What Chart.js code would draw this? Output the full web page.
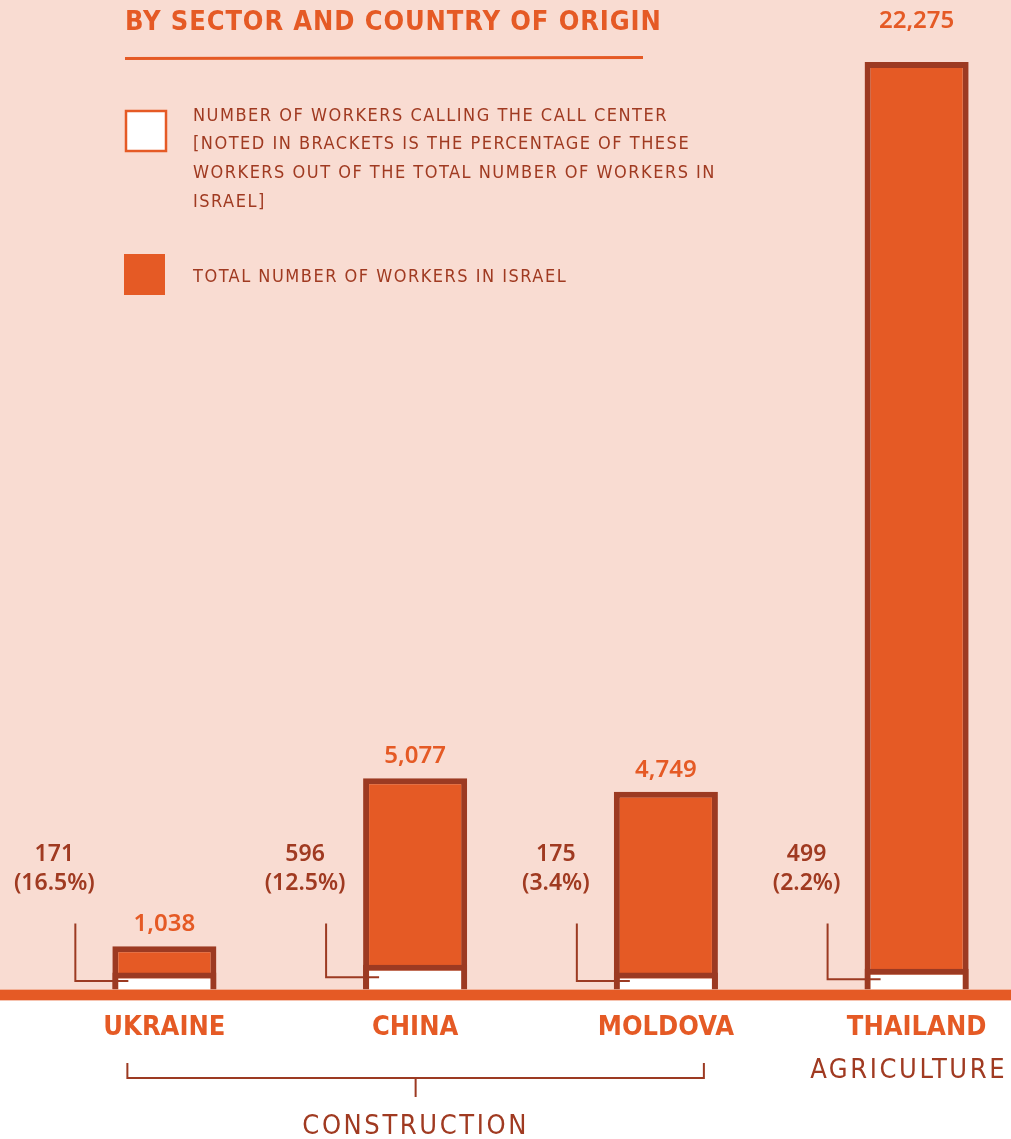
<!DOCTYPE html>
<html>
<head>
<meta charset="utf-8">
<title>By sector and country of origin</title>
<script src="https://cdn.jsdelivr.net/npm/chart.js@4.4.1/dist/chart.umd.min.js"></script>
<style>
  html, body { margin: 0; padding: 0; background: #ffffff; overflow: hidden; }
  #wrap { position: relative; width: 1011px; height: 1139px; overflow: hidden; }
  #sectorChart { position: absolute; left: 0; top: 0; }
</style>
</head>
<body>
<div id="wrap"><canvas id="sectorChart" width="1045" height="1139"></canvas></div>
<script>
// Chart data
const countries = ['UKRAINE', 'CHINA', 'MOLDOVA', 'THAILAND'];
const totalWorkers = [1038, 5077, 4749, 22275];
const callCenterWorkers = [171, 596, 175, 499];
const callCenterShare = ['16.5%', '12.5%', '3.4%', '2.2%'];
const sectorNames = ['CONSTRUCTION', 'AGRICULTURE'];
const countrySector = [0, 0, 0, 1];

const titleText = 'BY SECTOR AND COUNTRY OF ORIGIN';
const legendCallCenter = [
    'NUMBER OF WORKERS CALLING THE CALL CENTER',
    '[NOTED IN BRACKETS IS THE PERCENTAGE OF THESE',
    'WORKERS OUT OF THE TOTAL NUMBER OF WORKERS IN',
    'ISRAEL]'
];
const legendTotal = ['TOTAL NUMBER OF WORKERS IN ISRAEL'];

// Colours
const PINK = '#f9dcd2';
const ORANGE = '#e55a25';
const OUTLINE = '#9c3a22';
const TEXT_BROWN = '#a03a21';

const HEAD_FONT = '"DejaVu Sans Condensed", "DejaVu Sans", sans-serif';
const NUM_FONT = '"Noto Sans", "Open Sans", sans-serif';

const fmt = n => n.toLocaleString('en-US');

// Pink backdrop above the baseline, orange band on it, white below
const backdropPlugin = {
    id: 'backdrop',
    beforeDraw(chart) {
        const { ctx, width, height } = chart;
        const base = chart.scales.y.getPixelForValue(0);
        ctx.save();
        ctx.fillStyle = PINK;
        ctx.fillRect(0, 0, width, base);
        ctx.fillStyle = ORANGE;
        ctx.fillRect(0, base, width, 11);
        ctx.fillStyle = '#ffffff';
        ctx.fillRect(0, base + 11, width, height - base - 11);
        ctx.restore();
    }
};

function spacedText(ctx, text, x, y, spacing) {
    ctx.letterSpacing = spacing + 'px';
    ctx.fillText(text, x, y);
    ctx.letterSpacing = '0px';
}

// Title, legend, value labels, connectors and sector brackets
const annotationPlugin = {
    id: 'annotations',
    afterDatasetsDraw(chart) {
        const { ctx, chartArea } = chart;
        const base = chart.scales.y.getPixelForValue(0);
        const callBars = chart.getDatasetMeta(0).data;
        const totalBars = chart.getDatasetMeta(1).data;
        ctx.save();

        // Title and underline
        ctx.fillStyle = ORANGE;
        ctx.font = 'bold 27px ' + HEAD_FONT;
        ctx.textAlign = 'left';
        ctx.textBaseline = 'middle';
        spacedText(ctx, titleText, 125, 23, 0.9);
        ctx.strokeStyle = ORANGE;
        ctx.lineWidth = 3;
        ctx.beginPath();
        ctx.moveTo(125, 58.5);
        ctx.lineTo(643, 57.5);
        ctx.stroke();

        // Legend
        ctx.fillStyle = '#ffffff';
        ctx.fillRect(126, 111, 40, 40);
        ctx.strokeStyle = ORANGE;
        ctx.lineWidth = 2.5;
        ctx.strokeRect(126, 111, 40, 40);
        ctx.fillStyle = ORANGE;
        ctx.fillRect(124, 254, 41, 41);
        ctx.fillStyle = TEXT_BROWN;
        ctx.font = '18px ' + HEAD_FONT;
        legendCallCenter.forEach((line, i) => spacedText(ctx, line, 193, 116 + i * 28.7, 1.5));
        legendTotal.forEach((line, i) => spacedText(ctx, line, 193, 277 + i * 28.7, 1.5));

        // Value labels
        ctx.textAlign = 'center';
        totalBars.forEach((bar, i) => {
            const top = bar.y;
            const y = top - chartArea.top > 50 ? top - 22 : chartArea.top / 3;
            ctx.fillStyle = ORANGE;
            ctx.font = '600 24px ' + NUM_FONT;
            ctx.fillText(fmt(totalWorkers[i]), bar.x, y);

            const left = bar.x - bar.width / 2;
            ctx.fillStyle = TEXT_BROWN;
            ctx.font = '600 23px ' + NUM_FONT;
            ctx.fillText(fmt(callCenterWorkers[i]), left - 58, base - 135);
            ctx.fillText('(' + callCenterShare[i] + ')', left - 58, base - 106);

            // connector from label to the white bar
            const midY = (callBars[i].y + base) / 2;
            ctx.strokeStyle = OUTLINE;
            ctx.lineWidth = 2;
            ctx.beginPath();
            ctx.moveTo(left - 37, base - 66);
            ctx.lineTo(left - 37, midY);
            ctx.lineTo(left + 16, midY);
            ctx.stroke();
        });

        // Sector brackets
        ctx.fillStyle = TEXT_BROWN;
        ctx.strokeStyle = OUTLINE;
        ctx.font = '27px ' + HEAD_FONT;
        ctx.lineWidth = 2;
        sectorNames.forEach((name, s) => {
            const xs = totalBars.filter((b, i) => countrySector[i] === s).map(b => b.x);
            const first = Math.min(...xs);
            const last = Math.max(...xs);
            if (xs.length > 1) {
                const l = first - 37, r = last + 38, mid = (l + r) / 2;
                ctx.beginPath();
                ctx.moveTo(l, 1063);
                ctx.lineTo(l, 1078);
                ctx.lineTo(r, 1078);
                ctx.lineTo(r, 1063);
                ctx.moveTo(mid, 1078);
                ctx.lineTo(mid, 1097);
                ctx.stroke();
                spacedText(ctx, name, mid, 1127, 2.6);
            } else {
                spacedText(ctx, name, first - 8, 1071, 2.6);
            }
        });
        ctx.restore();
    }
};

const chart = new Chart(document.getElementById('sectorChart'), {
    type: 'bar',
    data: {
        labels: countries,
        datasets: [
            {
                label: 'Number of workers calling the call center',
                data: callCenterWorkers,
                backgroundColor: '#ffffff',
                borderColor: OUTLINE,
                borderWidth: 6,
                borderSkipped: 'bottom',
                minBarLength: 17,
                order: 0
            },
            {
                label: 'Total number of workers in Israel',
                data: totalWorkers,
                backgroundColor: ORANGE,
                borderColor: OUTLINE,
                borderWidth: 6,
                borderSkipped: 'bottom',
                order: 1
            }
        ]
    },
    options: {
        responsive: false,
        animation: false,
        barPercentage: 0.83,
        categoryPercentage: 0.5,
        layout: {
            padding: { top: 62, left: 39, right: 3, bottom: 73 }
        },
        scales: {
            x: {
                stacked: true,
                grid: { display: false, drawTicks: false },
                border: { display: false },
                ticks: {
                    color: ORANGE,
                    padding: 22,
                    font: { family: HEAD_FONT, size: 27, weight: 'bold' }
                }
            },
            y: {
                display: false,
                stacked: false,
                min: 0,
                max: Math.max(...totalWorkers)
            }
        },
        plugins: {
            legend: { display: false },
            tooltip: { enabled: false }
        }
    },
    plugins: [backdropPlugin, annotationPlugin]
});
</script>
</body>
</html>
